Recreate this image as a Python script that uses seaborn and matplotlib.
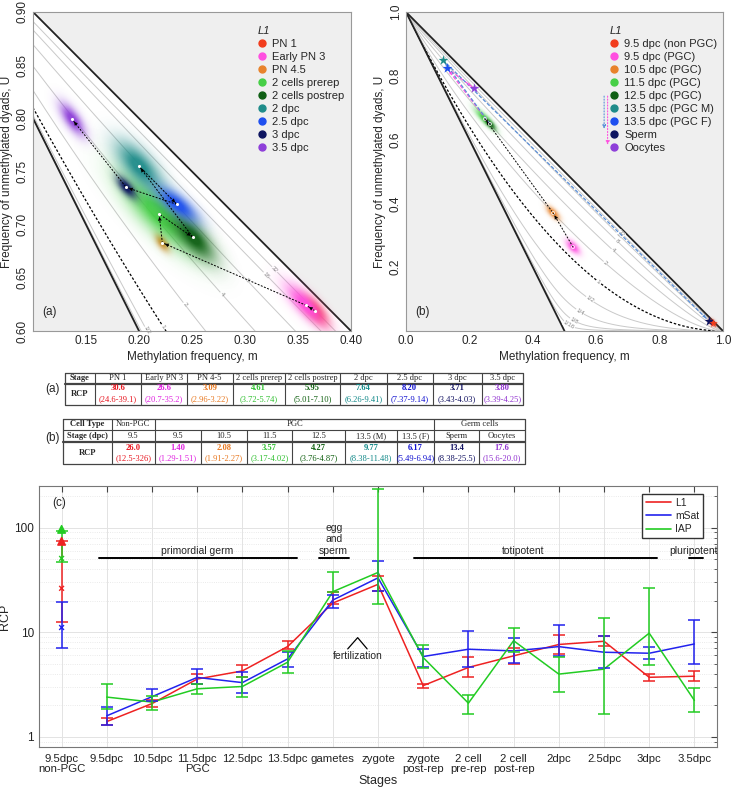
import numpy as np
import pandas as pd
import seaborn as sns
import matplotlib.pyplot as plt
from matplotlib.lines import Line2D
from matplotlib.colors import to_rgb

sns.set_style('white')
plt.rcParams['font.family'] = ['Liberation Sans', 'DejaVu Sans']

# ---------------- panel (a) : L1 in preimplantation embryo ----------------
a_labels = ['PN 1', 'Early PN 3', 'PN 4.5', '2 cells prerep', '2 cells postrep',
            '2 dpc', '2.5 dpc', '3 dpc', '3.5 dpc']
a_colors = ['#f23c1c', '#ff4fe0', '#e8832c', '#46cf46', '#0f5f14',
            '#1f8c8a', '#1e4ff0', '#0d1460', '#8e3fd9']
a_m = [0.366, 0.358, 0.222, 0.219, 0.251, 0.200, 0.236, 0.188, 0.137]
a_u = [0.619, 0.624, 0.683, 0.710, 0.688, 0.755, 0.719, 0.735, 0.799]
a_spread_long = [0.0095, 0.015, 0.0055, 0.028, 0.016, 0.017, 0.014, 0.0075, 0.0105]
a_spread_wide = [0.0042, 0.0052, 0.0028, 0.0095, 0.0065, 0.0075, 0.0052, 0.0032, 0.0042]
a_angle = [-50, -46, -55, -45, -48, -48, -39, -49, -55]

# ---------------- panel (b) : L1 in germ line ----------------
b_labels = ['9.5 dpc (non PGC)', '9.5 dpc (PGC)', '10.5 dpc (PGC)', '11.5 dpc (PGC)',
            '12.5 dpc (PGC)', '13.5 dpc (PGC M)', '13.5 dpc (PGC F)', 'Sperm', 'Oocytes']
b_colors = ['#f23c1c', '#ff4fe0', '#e8832c', '#46cf46', '#0f5f14',
            '#1f8c8a', '#1e4ff0', '#0d1460', '#8e3fd9']
b_m = [0.968, 0.527, 0.464, 0.249, 0.265, 0.116, 0.128, 0.955, 0.2145]
b_u = [0.025, 0.263, 0.370, 0.665, 0.649, 0.850, 0.825, 0.032, 0.761]
b_spread_long = [0.008, 0.016, 0.016, 0.025, 0.012, 0, 0, 0, 0]
b_spread_wide = [0.005, 0.008, 0.007, 0.007, 0.005, 0, 0, 0, 0]

# iso-RCP curves
rcp_levels = [1/16, 1/8, 1/4, 1/2, 1, 2, 4, 8, 16, 32]
rcp_names = ['1/16', '1/8', '1/4', '1/2', '1', '2', '4', '8', '16', '32']
a_label_m = [None, None, None, 0.2075, 0.2226, 0.243, 0.278, 0.302, 0.320, 0.328]
b_label_m = [0.514, 0.53, 0.549, 0.58, 0.606, 0.628, 0.653, 0.665, 0.672, 0.68]

# ---------------- tables ----------------
ta_stage = ['PN 1', 'Early PN 3', 'PN 4-5', '2 cells prerep', '2 cells postrep',
            '2 dpc', '2.5 dpc', '3 dpc', '3.5 dpc']
ta_rcp = ['30.6', '26.6', '3.09', '4.61', '5.95', '7.64', '8.20', '3.71', '3.80']
ta_ci = ['(24.6-39.1)', '(20.7-35.2)', '(2.96-3.22)', '(3.72-5.74)', '(5.01-7.10)',
         '(6.26-9.41)', '(7.37-9.14)', '(3.43-4.03)', '(3.39-4.25)']
ta_colors = ['#e8141e', '#e020e0', '#e87820', '#30c030', '#106010',
             '#108888', '#1010d0', '#101060', '#9030d0']
tb_stage = ['9.5', '9.5', '10.5', '11.5', '12.5', '13.5 (M)', '13.5 (F)', 'Sperm', 'Oocytes']
tb_rcp = ['26.0', '1.40', '2.08', '3.57', '4.27', '9.77', '6.17', '13.4', '17.6']
tb_ci = ['(12.5-326)', '(1.29-1.51)', '(1.91-2.27)', '(3.17-4.02)', '(3.76-4.87)',
         '(8.38-11.48)', '(5.49-6.94)', '(8.38-25.5)', '(15.6-20.0)']
tb_colors = ['#e8141e', '#e020e0', '#e87820', '#30c030', '#106010',
             '#108888', '#1010d0', '#101060', '#9030d0']

# ---------------- panel (c) : RCP across stages ----------------
c_stages = ['9.5dpc\nnon-PGC', '9.5dpc', '10.5dpc', '11.5dpc\nPGC', '12.5dpc', '13.5dpc',
            'gametes', 'zygote', 'zygote\npost-rep', '2 cell\npre-rep', '2 cell\npost-rep',
            '2dpc', '2.5dpc', '3dpc', '3.5dpc']
l1_val = [26.3, 1.40, 2.08, 3.57, 4.27, 7.3, 19.0, 28.7, 3.09, 4.61, 5.95, 7.64, 8.20, 3.71, 3.80]
l1_lo = [12.6, 1.29, 1.91, 3.17, 3.76, 6.9, 18.5, 24.8, 2.96, 3.72, 5.01, 6.26, 7.37, 3.43, 3.39]
l1_hi = [74.0, 1.51, 2.27, 4.02, 4.87, 8.25, 24.0, 34.6, 3.22, 5.74, 7.10, 9.41, 9.14, 4.03, 4.25]
ms_val = [11.1, 1.59, 2.42, 3.70, 3.30, 5.56, 20.3, 33.1, 5.86, 6.88, 6.63, 7.29, 6.44, 6.30, 7.73]
ms_lo = [7.1, 1.30, 2.18, 3.18, 2.65, 4.70, 17.2, 24.8, 4.70, 4.70, 5.13, 5.93, 4.53, 5.53, 5.00]
ms_hi = [19.3, 1.95, 2.86, 4.44, 4.20, 6.53, 22.7, 47.9, 6.93, 10.36, 8.77, 11.7, 9.20, 7.20, 13.1]
iap_val = [50.8, 2.40, 2.15, 2.88, 3.03, 5.17, 24.4, 37.3, 5.73, 2.10, 8.30, 3.98, 4.44, 9.80, 2.23]
iap_lo = [46.6, 1.86, 1.79, 2.59, 2.42, 4.07, 24.0, 18.5, 4.53, 1.65, 6.44, 2.71, 1.65, 4.88, 1.71]
iap_hi = [92.6, 3.18, 2.45, 3.20, 3.72, 6.64, 37.3, 236, 7.57, 2.52, 11.1, 5.86, 13.8, 26.3, 2.92]
probes = ['L1', 'mSat', 'IAP']
probe_colors = ['#ee2222', '#2222ee', '#22cc22']


def iso_u(m, r):
    k = r ** 2
    q = m * (1 - m)
    if abs(k - 1) < 1e-9:
        h = 2 * q
    else:
        h = (-1 + np.sqrt(1 + 4 * (k - 1) * q)) / (k - 1)
    return 1 - m - h / 2


def blob(ax, cx, cy, sl, sw, ang, color, xr, yr):
    xs = np.linspace(xr[0], xr[1], 500)
    ys = np.linspace(yr[0], yr[1], 500)
    X, Y = np.meshgrid(xs, ys)
    t = np.deg2rad(ang)
    dx, dy = X - cx, Y - cy
    a = dx * np.cos(t) + dy * np.sin(t)
    b = -dx * np.sin(t) + dy * np.cos(t)
    z = np.exp(-0.5 * ((a / sl) ** 2 + (b / sw) ** 2))
    rgba = np.zeros(z.shape + (4,))
    rgba[..., :3] = to_rgb(color)
    rgba[..., 3] = np.clip(1.05 * z ** 0.75, 0, 0.95)
    ax.imshow(rgba, extent=(xr[0], xr[1], yr[0], yr[1]), origin='lower',
              aspect='auto', zorder=3, interpolation='bilinear')


def simplex(ax, xr, yr, label_m, fs_lab):
    ax.set_facecolor('#efefef')
    ax.fill([0, 0.5, 1], [1, 0, 0], color='white', zorder=0)
    ax.plot([0, 1], [1, 0], color='#222222', lw=1.3, zorder=2)
    ax.plot([0, 0.5], [1, 0], color='#222222', lw=1.3, zorder=2)
    mm = np.linspace(0.0005, 0.9995, 2000)
    for r, name, lm in zip(rcp_levels, rcp_names, label_m):
        uu = np.array([iso_u(v, r) for v in mm])
        if r == 1:
            ax.plot(mm, uu, color='k', ls=(0, (2, 1.5)), lw=0.9, zorder=1)
        else:
            ax.plot(mm, uu, color='#c9c9c9', lw=0.7, zorder=1)
        if lm is not None:
            u0 = iso_u(lm, r)
            slope = (iso_u(lm + 1e-4, r) - iso_u(lm - 1e-4, r)) / 2e-4
            ax.text(lm, u0, name, fontsize=fs_lab, color='#888888', ha='center', va='center',
                    rotation=np.degrees(np.arctan(slope)), zorder=2,
                    bbox=dict(facecolor='white', edgecolor='none', pad=0.2))
    for s in ax.spines.values():
        s.set_color('#999999')
    ax.tick_params(length=0, labelsize=8.5, pad=3)
    ax.set_xlabel('Methylation frequency, m', fontsize=8.5, labelpad=3)
    ax.set_ylabel('Frequency of unmethylated dyads, U', fontsize=8.5, labelpad=3)


def add_legend(ax, colors, labels, x0):
    handles = [Line2D([], [], marker='o', ls='', color=c, markersize=5) for c in colors]
    leg = ax.legend(handles, labels, loc='upper left', bbox_to_anchor=(x0, 0.975), frameon=False,
                    fontsize=8, handlelength=0.8, handletextpad=0.5, labelspacing=0.27,
                    borderpad=0, title='L1', alignment='left')
    leg.get_title().set_fontsize(8)
    leg.get_title().set_fontstyle('italic')


fig = plt.figure(figsize=(7.33, 7.92), dpi=100)

# ---------------- panel (a) ----------------
ax_a = fig.add_axes([33 / 733, 1 - 331 / 792, 318 / 733, 319 / 792])
xr_a, yr_a = (0.1, 0.4), (0.6, 0.9)
simplex(ax_a, xr_a, yr_a, a_label_m, 4.5)
for i in range(len(a_m)):
    blob(ax_a, a_m[i], a_u[i], a_spread_long[i], a_spread_wide[i], a_angle[i], a_colors[i], xr_a, yr_a)
ax_a.plot(a_m, a_u, color='k', ls=(0, (2, 1.5)), lw=0.7, zorder=4)
for i in range(1, len(a_m)):
    ax_a.annotate('', xy=(a_m[i], a_u[i]), xytext=(a_m[i - 1], a_u[i - 1]),
                  arrowprops=dict(arrowstyle='-|>', color='k', lw=0, shrinkA=0, shrinkB=2,
                                  mutation_scale=7), zorder=5)
ax_a.scatter(a_m, a_u, s=5, color='white', zorder=6, linewidths=0)
ax_a.set_xlim(xr_a)
ax_a.set_ylim(yr_a)
ax_a.set_xticks([0.15, 0.2, 0.25, 0.3, 0.35, 0.4])
ax_a.set_xticklabels(['0.15', '0.20', '0.25', '0.30', '0.35', '0.40'])
ax_a.set_yticks([0.6, 0.65, 0.7, 0.75, 0.8, 0.85, 0.9])
ax_a.set_yticklabels(['0.60', '0.65', '0.70', '0.75', '0.80', '0.85', '0.90'], rotation=90, va='center')
ax_a.text(0.03, 0.05, '(a)', transform=ax_a.transAxes, fontsize=8.5)
add_legend(ax_a, a_colors, a_labels, 0.69)

# ---------------- panel (b) ----------------
ax_b = fig.add_axes([406 / 733, 1 - 331 / 792, 317 / 733, 319 / 792])
xr_b, yr_b = (0, 1), (0, 1)
simplex(ax_b, xr_b, yr_b, b_label_m, 4.5)
for i in range(5):
    blob(ax_b, b_m[i], b_u[i], b_spread_long[i], b_spread_wide[i], -45, b_colors[i], xr_b, yr_b)
# germ line path
path = [1, 2, 3, 4]
ax_b.plot([b_m[i] for i in path], [b_u[i] for i in path], color='k', ls=(0, (2, 1.5)), lw=0.7, zorder=4)
for p, q in zip(path[:-1], path[1:]):
    ax_b.annotate('', xy=(b_m[q], b_u[q]), xytext=(b_m[p], b_u[p]),
                  arrowprops=dict(arrowstyle='-|>', color='k', lw=0, shrinkA=0, shrinkB=2,
                                  mutation_scale=7), zorder=5)
for p, q, col in [(4, 6, '#ff4fe0'), (6, 8, '#ff4fe0'), (4, 5, '#5a8fd8'), (5, 7, '#5a8fd8')]:
    ax_b.plot([b_m[p], b_m[q]], [b_u[p], b_u[q]], color=col, ls=(0, (3, 1.5)), lw=0.9, zorder=4)
    ax_b.annotate('', xy=(b_m[q], b_u[q]), xytext=(b_m[p], b_u[p]),
                  arrowprops=dict(arrowstyle='-|>', color=col, lw=0, shrinkA=0, shrinkB=3,
                                  mutation_scale=6), zorder=5)
for i in range(5, 9):
    ax_b.scatter(b_m[i], b_u[i], marker='*', s=55, color=b_colors[i], zorder=6, linewidths=0)
ax_b.scatter(b_m[0], b_u[0], marker='*', s=40, color=b_colors[0], zorder=6, linewidths=0)
ax_b.scatter(b_m[1:5], b_u[1:5], s=5, facecolor='none', edgecolor='white', linewidths=0.5, zorder=6)
ax_b.set_xlim(xr_b)
ax_b.set_ylim(yr_b)
ax_b.set_xticks([0, 0.2, 0.4, 0.6, 0.8, 1.0])
ax_b.set_xticklabels(['0.0', '0.2', '0.4', '0.6', '0.8', '1.0'])
ax_b.set_yticks([0.2, 0.4, 0.6, 0.8, 1.0])
ax_b.set_yticklabels(['0.2', '0.4', '0.6', '0.8', '1.0'], rotation=90, va='center')
ax_b.text(0.03, 0.05, '(b)', transform=ax_b.transAxes, fontsize=8.5)
add_legend(ax_b, b_colors, b_labels, 0.625)
ax_b.annotate('', xy=(0.625, 0.625), xytext=(0.625, 0.745), xycoords='axes fraction',
              arrowprops=dict(arrowstyle='-|>', color='#5a8fd8', lw=0.8, ls=':', mutation_scale=5))
ax_b.annotate('', xy=(0.636, 0.575), xytext=(0.636, 0.745), xycoords='axes fraction',
              arrowprops=dict(arrowstyle='-|>', color='#ff4fe0', lw=0.8, ls=':', mutation_scale=5))

# ---------------- tables ----------------
tab = fig.add_axes([0, 0, 1, 1], zorder=-1)
tab.set_xlim(0, 733)
tab.set_ylim(792, 0)
tab.axis('off')
serif = ['Liberation Serif', 'DejaVu Serif']
lc = '#444444'
tfs = 6.1

ta_cols = [65, 95, 140.7, 186.7, 232.7, 285, 340, 386.7, 432.7, 481.7, 522.7]
tab.plot([65, 522.7, 522.7, 65, 65], [373, 373, 405, 405, 373], color=lc, lw=0.9)
tab.plot([65, 522.7], [383.5, 383.5], color=lc, lw=1.6)
for x in ta_cols[1:-1]:
    tab.plot([x, x], [373, 405], color=lc, lw=0.8)
tab.text(80, 378.3, 'Stage', family=serif, fontsize=tfs, weight='bold', ha='center', va='center')
tab.text(80, 394, 'RCP', family=serif, fontsize=tfs, weight='bold', ha='center', va='center')
for i in range(9):
    xc = (ta_cols[i + 1] + ta_cols[i + 2]) / 2
    tab.text(xc, 378.3, ta_stage[i], family=serif, fontsize=tfs, ha='center', va='center')
    tab.text(xc, 388.5, ta_rcp[i], family=serif, fontsize=tfs, weight='bold', color=ta_colors[i],
             ha='center', va='center')
    tab.text(xc, 399, ta_ci[i], family=serif, fontsize=tfs, color=ta_colors[i], ha='center', va='center')
tab.text(52, 389, '(a)', fontsize=8.5, ha='center', va='center')

tb_cols = [63.3, 111.7, 155, 201, 246.7, 292.3, 345, 396.7, 434.3, 479.3, 525]
tab.plot([63.3, 525, 525, 63.3, 63.3], [419, 419, 464, 464, 419], color=lc, lw=0.9)
tab.plot([63.3, 525], [429.5, 429.5], color=lc, lw=0.8)
tab.plot([63.3, 525], [442, 442], color=lc, lw=1.6)
for x in tb_cols[1:-1]:
    if x in (111.7, 155, 434.3):
        tab.plot([x, x], [419, 464], color=lc, lw=0.8)
    else:
        tab.plot([x, x], [429.5, 464], color=lc, lw=0.8)
tab.text(87.5, 424.3, 'Cell Type', family=serif, fontsize=tfs, weight='bold', ha='center', va='center')
tab.text(87.5, 436, 'Stage (dpc)', family=serif, fontsize=tfs, weight='bold', ha='center', va='center')
tab.text(87.5, 453, 'RCP', family=serif, fontsize=tfs, weight='bold', ha='center', va='center')
tab.text(133.3, 424.3, 'Non-PGC', family=serif, fontsize=tfs, ha='center', va='center')
tab.text(294.6, 424.3, 'PGC', family=serif, fontsize=tfs, ha='center', va='center')
tab.text(479.6, 424.3, 'Germ cells', family=serif, fontsize=tfs, ha='center', va='center')
for i in range(9):
    xc = (tb_cols[i + 1] + tb_cols[i + 2]) / 2
    tab.text(xc, 436, tb_stage[i], family=serif, fontsize=tfs, ha='center', va='center')
    tab.text(xc, 447.5, tb_rcp[i], family=serif, fontsize=tfs, weight='bold', color=tb_colors[i],
             ha='center', va='center')
    tab.text(xc, 458.5, tb_ci[i], family=serif, fontsize=tfs, color=tb_colors[i], ha='center', va='center')
tab.text(52, 438, '(b)', fontsize=8.5, ha='center', va='center')

# ---------------- panel (c) ----------------
ax_c = fig.add_axes([39 / 733, 1 - 747 / 792, 678 / 733, 261 / 792])
pos = np.arange(1, 16)
series = [(l1_val, l1_lo, l1_hi), (ms_val, ms_lo, ms_hi), (iap_val, iap_lo, iap_hi)]
rows = []
for name, (v, lo, hi) in zip(probes, series):
    for p, val in zip(pos[1:], v[1:]):
        rows.append({'stage': p, 'RCP': val, 'probe': name})
df = pd.DataFrame(rows)
sns.lineplot(data=df, x='stage', y='RCP', hue='probe', palette=probe_colors, lw=1.1,
             ax=ax_c, zorder=3)
for (v, lo, hi), col in zip(series, probe_colors):
    v, lo, hi = np.array(v), np.array(lo), np.array(hi)
    ax_c.errorbar(pos, v, yerr=[v - lo, hi - v], fmt='none', ecolor=col, elinewidth=1.1,
                  capsize=4, capthick=1.1, zorder=3)
ax_c.scatter([1, 1, 1], [l1_val[0], ms_val[0], iap_val[0]], marker='x', s=12,
             color=probe_colors, linewidths=1, zorder=4)
ax_c.scatter([1, 1], [l1_hi[0], iap_hi[0] * 1.04], marker='^', s=30,
             color=[probe_colors[0], probe_colors[2]], zorder=4)
ax_c.set_yscale('log')
ax_c.set_ylim(0.8, 250)
ax_c.set_xlim(0.5, 15.5)
ax_c.set_xticks(pos)
ax_c.set_xticklabels(c_stages, fontsize=8.2, linespacing=1.0)
ax_c.set_yticks([1, 10, 100])
ax_c.set_yticklabels(['1', '10', '100'], fontsize=8.5)
ax_c.tick_params(axis='both', which='both', direction='in', top=True, right=True, colors='#444444',
                 labelcolor='#222222')
ax_c.tick_params(which='major', length=4)
ax_c.tick_params(axis='x', which='major', pad=5)
ax_c.tick_params(which='minor', length=2.5)
ax_c.grid(True, which='major', color='#e3e3e3', lw=0.7)
ax_c.grid(True, which='minor', axis='y', color='#e3e3e3', lw=0.6, ls=':')
for s in ax_c.spines.values():
    s.set_color('#777777')
ax_c.set_xlabel('Stages', fontsize=9, labelpad=1)
ax_c.set_ylabel('RCP', fontsize=9, labelpad=2)
ax_c.text(0.019, 0.935, '(c)', transform=ax_c.transAxes, fontsize=8.5, va='center')

# stage group bars
ax_c.plot([1.82, 6.21], [50.8, 50.8], color='k', lw=1.4)
ax_c.text(4.0, 54, 'primordial germ', fontsize=7.5, ha='center', va='bottom')
ax_c.plot([6.7, 7.35], [50.8, 50.8], color='k', lw=1.4)
ax_c.text(7.02, 54, 'egg\nand\nsperm', fontsize=7.5, ha='center', va='bottom', linespacing=1.15)
ax_c.plot([8.79, 14.18], [50.8, 50.8], color='k', lw=1.4)
ax_c.text(11.22, 54, 'totipotent', fontsize=7.5, ha='center', va='bottom')
ax_c.plot([14.87, 15.18], [50.8, 50.8], color='k', lw=1.4)
ax_c.text(14.98, 54, 'pluripotent', fontsize=7.5, ha='center', va='bottom')
ax_c.plot([7.33, 7.55, 7.76], [6.93, 8.88, 6.93], color='k', lw=0.9)
ax_c.text(7.55, 5.94, 'fertilization', fontsize=7.5, ha='center', va='center')

h_c = [Line2D([], [], color=c, lw=1.2) for c in probe_colors]
ax_c.legend(h_c, probes, loc='upper right', bbox_to_anchor=(0.987, 0.988), fontsize=7.5,
            frameon=True, fancybox=False, edgecolor='#333333', framealpha=1,
            handlelength=2.4, handletextpad=0.4, borderpad=0.35, labelspacing=0.3)

fig.savefig('out.png', dpi=100)
